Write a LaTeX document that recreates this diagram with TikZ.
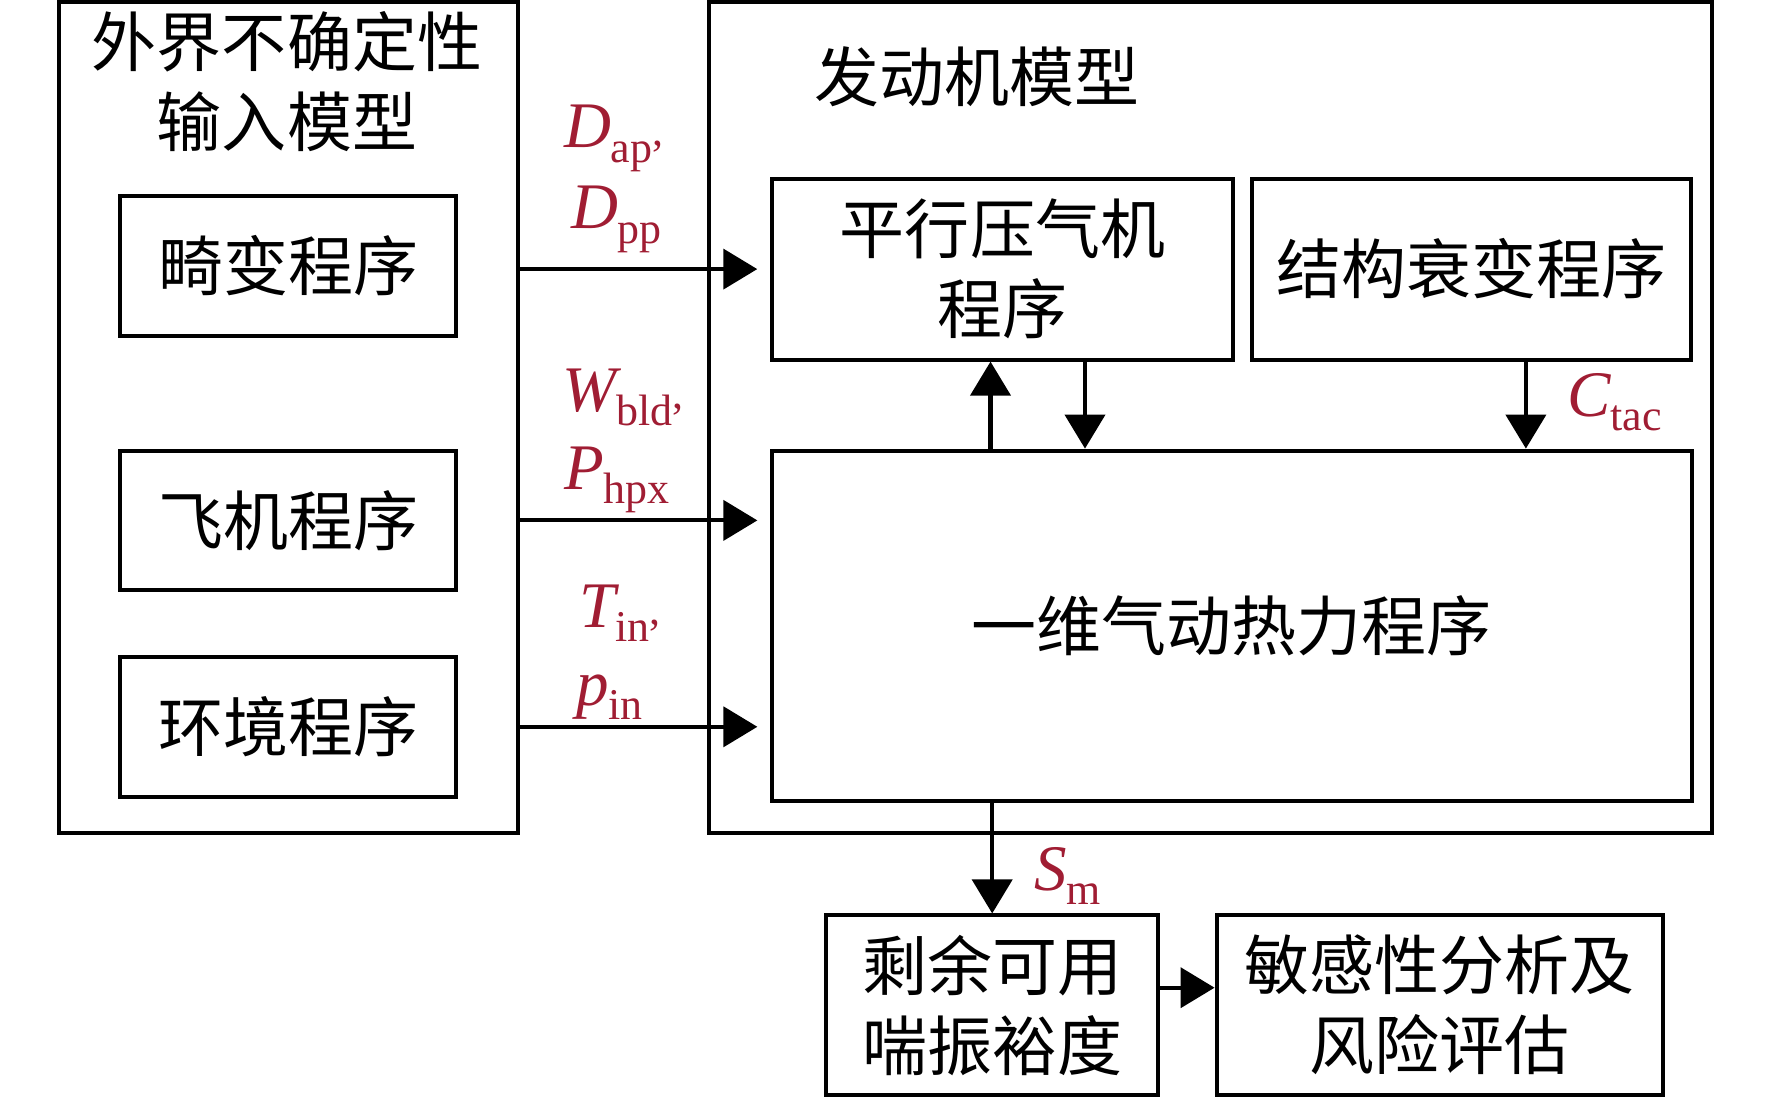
\documentclass[tikz,border=0pt]{standalone}
\usepackage{fontspec}
\usetikzlibrary{arrows.meta}
\setmainfont{Liberation Serif}
\newfontfamily\cjk{Noto Sans CJK SC}
\definecolor{varc}{HTML}{A01D33}
\newcommand{\zh}{\cjk\fontsize{37}{45.5}\selectfont}
\newcommand{\vlab}[2]{{\itshape #1}\raisebox{-8.5pt}{\fontsize{25}{25}\selectfont #2}}
\newcommand{\hicomma}{\raisebox{10pt}{,}}

\begin{document}
\begin{tikzpicture}[x=0.02cm, y=-0.02cm, line width=2.3pt,
      every node/.style={font=\zh},
      box/.style 2 args={draw, minimum width=#1, minimum height=#2,
                         align=center, inner sep=0pt},
      prog/.style={box={6.73cm}{2.79cm}},
      lab/.style={font=\fontsize{37}{37}\selectfont, text=varc,
                  anchor=base west, inner sep=0pt},
      arr/.style={-{Triangle[length=0.68cm, width=0.8cm]}}]
    \useasboundingbox (0,0) rectangle (1772,1098);
    % two model frames
    \node[box={9.18cm}{16.62cm}]  (outL) at (288.2,417.8) {};
    \node[box={20.06cm}{16.62cm}] (eng)  at (1210.6,417.8) {};
    \node[align=center] (outTitle) at (287,82) {外界不确定性\\输入模型};
    \node (engTitle) at (977,77) {发动机模型};
    \node[prog] (jb) at (288.2,266)   {畸变程序};
    \node[prog] (fj) at (288.2,520.4) {飞机程序};
    \node[prog] (hj) at (288.2,726.8) {环境程序};
    \node[box={9.23cm}{3.62cm}] (pxj) at (1002.5,269.1) {平行压气机\\程序};
    \node[box={8.78cm}{3.62cm}] (jg)  at (1471.9,269.1) {结构衰变程序};
    \node[box={18.4cm}{7.0cm}]  (yw)  at (1231.8,625.6) {一维气动热力程序};
    \node[box={6.65cm}{3.59cm}] (sy)  at (992.2,1005.2) {剩余可用\\喘振裕度};
    \node[box={8.93cm}{3.59cm}] (mg)  at (1439.8,1005.2) {敏感性分析及\\风险评估};
    % inputs
    \foreach \s/\t in {pxj/pxj, fj/yw, hj/yw}
      \draw[arr, shorten >=0.25cm] (outL.east |- \s.east) -- (\t.west |- \s.east);
    \node[lab] (dap)  at (562,148) {\vlab{D}{ap\hicomma}};
    \node[lab] (dpp)  at (569,229) {\vlab{D}{pp}};
    \node[lab] (wbld) at (560,411) {\vlab{W}{bld\hicomma}};
    \node[lab] (phpx) at (562,489) {\vlab{P}{hpx}};
    \node[lab] (tin)  at (577,627) {\vlab{T}{in\hicomma}};
    \node[lab] (pin)  at (574,705) {\vlab{p}{in}};
    % inside the engine model
    \coordinate (up) at ([xshift=-0.24cm]pxj.south);
    \coordinate (dn) at ([xshift=1.65cm]pxj.south);
    \coordinate (ct) at ([xshift=1.08cm]jg.south);
    \draw[arr] (up |- yw.north) -- (up);
    \draw[arr] (dn) -- (dn |- yw.north);
    \draw[arr] (ct) -- (ct |- yw.north);
    \node[lab] (ctac) at (1565,416) {\vlab{C}{tac}};
    % outputs
    \draw[arr] (yw.south -| sy.north) -- (sy.north);
    \node[lab] (sm) at (1032,890) {\vlab{S}{m}};
    \draw[arr] ([yshift=0.35cm]sy.east) -- ([yshift=0.35cm]mg.west);
  \end{tikzpicture}
\end{document}
